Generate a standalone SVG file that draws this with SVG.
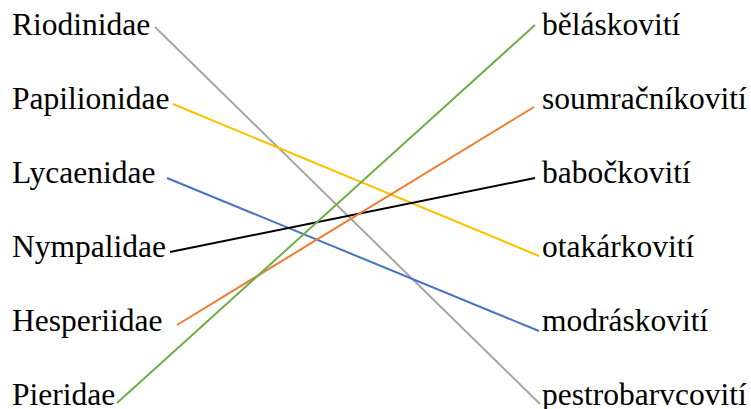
<svg xmlns="http://www.w3.org/2000/svg" width="751" height="409" viewBox="0 0 751 409">
<style>
text{font-family:"Liberation Serif","Times New Roman",serif;font-size:31.5px;fill:#000}
.c{stroke-width:2;fill:none;stroke-linecap:butt}
</style>
<rect width="751" height="409" fill="#fff"/>
<g id="connectors">
<line class="c" x1="155" y1="27" x2="540" y2="404" stroke="#A5A5A5"/>
<line class="c" x1="173" y1="104" x2="539" y2="256" stroke="#FFC000"/>
<line class="c" x1="167" y1="178" x2="539" y2="331" stroke="#4472C4"/>
<line class="c" x1="170" y1="252" x2="535" y2="178" stroke="#000000"/>
<line class="c" x1="177" y1="325" x2="534" y2="107" stroke="#ED7D31"/>
<line class="c" x1="117" y1="403" x2="535" y2="25" stroke="#70AD47"/>
</g>
<g id="riodinidae"><text x="12" y="35">Riodinidae</text></g>
<g id="papilionidae"><text x="12" y="109">Papilionidae</text></g>
<g id="lycaenidae"><text x="12" y="183">Lycaenidae</text></g>
<g id="nympalidae"><text x="12" y="257">Nympalidae</text></g>
<g id="hesperiidae"><text x="12" y="331">Hesperiidae</text></g>
<g id="pieridae"><text x="12" y="405">Pieridae</text></g>
<g id="belaskoviti"><text x="542" y="35">běláskovití</text></g>
<g id="soumracnikoviti"><text x="542" y="109">soumračníkovití</text></g>
<g id="babockoviti"><text x="542" y="183">babočkovití</text></g>
<g id="otakarkoviti"><text x="542" y="257">otakárkovití</text></g>
<g id="modraskoviti"><text x="542" y="331">modráskovití</text></g>
<g id="pestrobarvcoviti"><text x="542" y="405">pestrobarvcovití</text></g>
</svg>
